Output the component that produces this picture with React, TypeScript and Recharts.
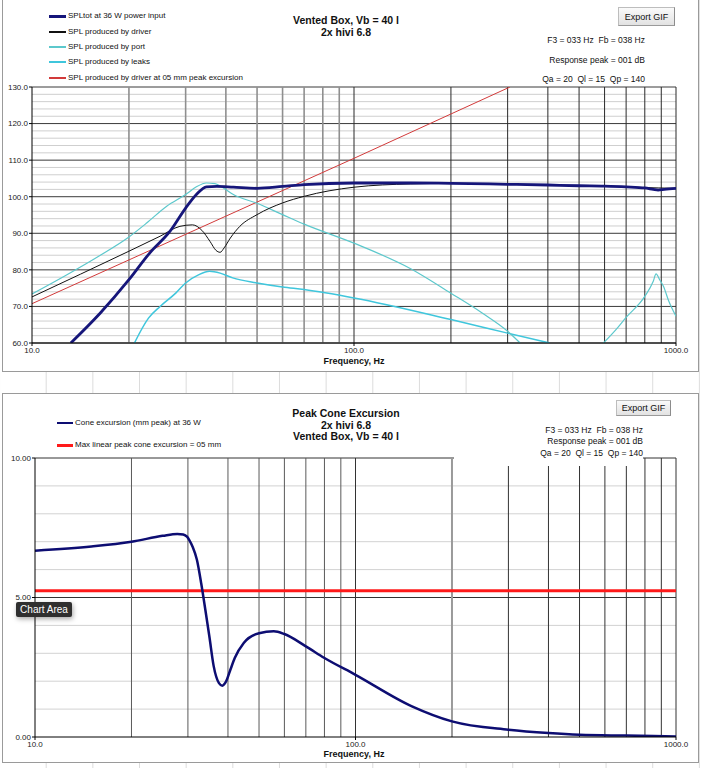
import React from "react";
import { LineChart, Line, XAxis, YAxis, CartesianGrid } from "recharts";

const FONT = '"Liberation Sans", Arial, Helvetica, sans-serif';

// ---------- shared axis values ----------
const freqTicks = [10, 100, 1000];
const freqGridLow = [20, 30, 40, 50, 60, 70, 80, 90];
const freqGridHigh = [100, 200, 300, 400, 500, 600, 700, 800, 900, 1000];
const freqGridHighB = [100, 300, 400, 500, 600, 700, 800, 900, 1000];
const freqGrid200 = [200];

// ---------- SPL chart (top) ----------
const splTitle = ["Vented Box, Vb = 40 l", "2x hivi 6.8"];
const splNotes = ["F3 = 033 Hz  Fb = 038 Hz", "Response peak = 001 dB", "Qa = 20  Ql = 15  Qp = 140"];
const splLegend = [
  "SPLtot at 36 W power input",
  "SPL produced by driver",
  "SPL produced by port",
  "SPL produced by leaks",
  "SPL produced by driver at 05 mm peak excursion",
];
const splTicks = [60, 70, 80, 90, 100, 110, 120, 130];
const splMinor = [62, 64, 66, 68, 72, 74, 76, 78, 82, 84, 86, 88, 92, 94, 96, 98, 102, 104, 106, 108, 112, 114, 116, 118, 122, 124, 126, 128];

const totHz = [13.2, 16.3, 20, 23.2, 26.8, 30, 32.4, 34.8, 37.5, 42.2, 50, 60, 70, 100, 150, 200, 300, 400, 500, 600, 700, 800, 850, 880, 920, 1000];
const totDb = [60, 68.2, 77.3, 84.6, 90.5, 96.9, 100.6, 102.7, 102.8, 102.6, 102.3, 102.8, 103.3, 103.75, 103.75, 103.65, 103.4, 103.2, 103.0, 102.9, 102.7, 102.4, 102.0, 101.8, 102.0, 102.3];

const drvHz = [10, 20, 25, 28.8, 31.5, 33.7, 35.7, 37.3, 38.4, 39.5, 41.3, 44.2, 50, 60, 70, 100, 150, 200, 300, 400, 500, 600, 700, 800, 880, 1000];
const drvDb = [72.6, 85.1, 89.2, 91.9, 92.3, 90.8, 87.8, 85.3, 84.8, 86.0, 88.7, 91.9, 95.1, 98.3, 100.1, 102.6, 103.5, 103.65, 103.4, 103.2, 103.0, 102.9, 102.7, 102.5, 102.4, 102.3];

const portLowHz = [10, 12.8, 16.3, 20, 22.7, 26.2, 30, 32.4, 34.8, 37, 39.3, 42.2, 50, 60, 70, 100, 150, 200, 250, 300, 328];
const portLowDb = [73.4, 78.6, 84.0, 89.0, 92.8, 97.4, 100.6, 102.7, 103.75, 103.6, 102.4, 100.6, 98.2, 95.1, 92.5, 87.3, 80.3, 73.6, 68.2, 63.2, 60];
const portHighHz = [595, 650, 700, 800, 850, 867, 890, 914, 950, 1000];
const portHighDb = [60, 63.6, 67.0, 72.75, 76.9, 78.9, 77.3, 75.5, 71.4, 67.3];

const leakHz = [20.8, 23, 25, 28, 30, 33, 35.6, 38.4, 42, 50, 60, 70, 100, 200, 300, 405];
const leakDb = [60, 66.8, 70.0, 73.7, 76.4, 78.7, 79.6, 79.1, 77.8, 76.4, 75.3, 74.6, 72.3, 66.4, 62.7, 60];

const xmaxHz = [10, 100, 305];
const xmaxDb = [70.75, 110.5, 130];

// ---------- excursion chart (bottom) ----------
const excTitle = ["Peak Cone Excursion", "2x hivi 6.8", "Vented Box, Vb = 40 l"];
const excLegend = ["Cone excursion (mm peak) at 36 W", "Max linear peak cone excursion = 05 mm"];
const excTicks = [0, 5, 10];
const excMinor = [1, 2, 3, 4, 6, 7, 8, 9];
const excMajor = [5, 10];

const coneHz = [10, 15, 20, 25, 27.8, 29, 29.8, 30.3, 31, 32, 33, 34, 35, 36.1, 37.5, 38.4, 39.5, 40.7, 42, 44.8, 50, 55.6, 60, 70, 80, 100, 150, 200, 300, 400, 500, 700, 1000];
const coneMm = [6.68, 6.83, 7.0, 7.21, 7.28, 7.26, 7.18, 7.06, 6.83, 6.35, 5.51, 4.56, 3.6, 2.54, 1.93, 1.84, 2.0, 2.41, 2.83, 3.37, 3.72, 3.79, 3.69, 3.25, 2.83, 2.23, 1.1, 0.56, 0.26, 0.14, 0.08, 0.05, 0.02];
const limitHz = [10, 1000];
const limitMm = [5.24, 5.24];

const pts = (hz: number[], v: number[]) => hz.map((f, i) => ({ f, v: v[i] }));

const tickStyle = { fontSize: 8, fill: "#222", fontFamily: FONT };

function Txt({
  x, y, children, size = 8, bold = false, align = "left", color = "#111",
}: { x: number; y: number; children: React.ReactNode; size?: number; bold?: boolean; align?: "left" | "center" | "right"; color?: string }) {
  const style: React.CSSProperties = {
    position: "absolute",
    top: y,
    fontFamily: FONT,
    fontSize: size,
    fontWeight: bold ? 700 : 400,
    lineHeight: 1,
    whiteSpace: "pre",
    color,
    transform: align === "center" ? "translate(-50%, -50%)" : "translateY(-50%)",
  };
  if (align === "right") style.right = 703 - x;
  else style.left = x;
  return <div style={style}>{children}</div>;
}

function Swatch({ x1, x2, y, color, w }: { x1: number; x2: number; y: number; color: string; w: number }) {
  return <div style={{ position: "absolute", left: x1, top: Math.round(y - w / 2), width: x2 - x1, height: w, background: color }} />;
}

function ExportButton({ left, top, width, height }: { left: number; top: number; width: number; height: number }) {
  return (
    <div
      style={{
        position: "absolute", left, top, width, height, boxSizing: "border-box",
        background: "linear-gradient(#fafafa, #e2e2e2)", border: "1px solid #bdbdbd",
        borderRightColor: "#8c8c8c", borderBottomColor: "#9a9a9a",
        fontFamily: FONT, fontSize: 9, color: "#111", display: "flex", alignItems: "center", justifyContent: "center",
      }}
    >
      Export GIF
    </div>
  );
}

function freqAxis(height: number) {
  return (
    <XAxis
      dataKey="f" type="number" scale="log" domain={[10, 1000]} ticks={freqTicks} allowDataOverflow
      tickFormatter={(v: number) => v.toFixed(1)} tick={tickStyle} tickSize={3} tickMargin={1}
      axisLine={{ stroke: "#000" }} tickLine={{ stroke: "#000" }} height={height} interval={0}
    />
  );
}

function SplChart() {
  const colors = ["#16167a", "#111111", "#5cc8cc", "#3fc6dc", "#d23a3a"];
  const widths = [3, 1.5, 1.5, 2, 1.5];
  const legendY = [16, 31.5, 47, 62, 77.5];
  return (
    <>
      <div style={{ position: "absolute", left: 2, top: -1, width: 697, height: 373, boxSizing: "border-box", border: "1px solid #9a9a9a", background: "#fff" }} />
      <div style={{ position: "absolute", left: 2, top: 0 }}>
        <LineChart width={696} height={372} margin={{ top: 87, right: 22, bottom: 0, left: 0 }}>
          <CartesianGrid horizontalValues={splMinor} vertical={false} stroke="#cfcfcf" />
          <CartesianGrid horizontalValues={splTicks} vertical={false} stroke="#3a3a3a" />
          <CartesianGrid verticalValues={freqGridLow} horizontal={false} stroke="#8f8f8f" strokeWidth={1.6} />
          <CartesianGrid verticalValues={freqGridHigh} horizontal={false} stroke="#2a2a2a" />
          {freqAxis(29)}
          <YAxis
            type="number" domain={[60, 130]} ticks={splTicks} allowDataOverflow width={30}
            tickFormatter={(v: number) => v.toFixed(1)} tick={tickStyle} tickSize={3} tickMargin={1}
            axisLine={{ stroke: "#000" }} tickLine={{ stroke: "#000" }} interval={0}
          />
          <Line data={pts(xmaxHz, xmaxDb)} dataKey="v" type="linear" stroke={colors[4]} strokeWidth={1} dot={false} isAnimationActive={false} />
          <Line data={pts(leakHz, leakDb)} dataKey="v" type="monotone" stroke={colors[3]} strokeWidth={1.5} dot={false} isAnimationActive={false} />
          <Line data={pts(portLowHz, portLowDb)} dataKey="v" type="monotone" stroke={colors[2]} strokeWidth={1.2} dot={false} isAnimationActive={false} />
          <Line data={pts(portHighHz, portHighDb)} dataKey="v" type="monotone" stroke={colors[2]} strokeWidth={1.2} dot={false} isAnimationActive={false} />
          <Line data={pts(drvHz, drvDb)} dataKey="v" type="monotone" stroke={colors[1]} strokeWidth={1} dot={false} isAnimationActive={false} />
          <Line data={pts(totHz, totDb)} dataKey="v" type="monotone" stroke={colors[0]} strokeWidth={2.8} dot={false} isAnimationActive={false} />
        </LineChart>
      </div>
      {splLegend.map((t, i) => (
        <React.Fragment key={t}>
          <Swatch x1={49} x2={66} y={legendY[i]} color={colors[i]} w={widths[i]} />
          <Txt x={68} y={legendY[i]}>{t}</Txt>
        </React.Fragment>
      ))}
      <Txt x={346} y={20} size={10.5} bold align="center">{splTitle[0]}</Txt>
      <Txt x={346} y={32} size={10.5} bold align="center">{splTitle[1]}</Txt>
      <ExportButton left={618} top={7} width={57} height={19} />
      <Txt x={645} y={39.5} size={8.5} align="right">{splNotes[0]}</Txt>
      <Txt x={645} y={60} size={8.5} align="right">{splNotes[1]}</Txt>
      <Txt x={645} y={79} size={8.5} align="right">{splNotes[2]}</Txt>
      <Txt x={354} y={361} size={9} bold align="center">Frequency, Hz</Txt>
    </>
  );
}

function ExcursionChart() {
  const colors = ["#0d0d72", "#ff1a1a"];
  const legendY = [423, 445];
  return (
    <>
      <div style={{ position: "absolute", left: 2, top: 393, width: 697, height: 370, boxSizing: "border-box", border: "1px solid #9a9a9a", background: "#fff" }} />
      <div style={{ position: "absolute", left: 2, top: 393 }}>
        <LineChart width={696} height={369} margin={{ top: 65, right: 22, bottom: 0, left: 0 }}>
          <CartesianGrid horizontalValues={excMinor} vertical={false} stroke="#d2d2d2" />
          <CartesianGrid horizontalValues={excMajor} vertical={false} stroke="#333" />
          <CartesianGrid verticalValues={freqGridLow} horizontal={false} stroke="#5a5a5a" />
          <CartesianGrid verticalValues={freqGrid200} horizontal={false} stroke="#9a9a9a" strokeWidth={2} />
          <CartesianGrid verticalValues={freqGridHighB} horizontal={false} stroke="#333" />
          {freqAxis(25)}
          <YAxis
            type="number" domain={[0, 10]} ticks={excTicks} allowDataOverflow width={33}
            tickFormatter={(v: number) => v.toFixed(2)} tick={tickStyle} tickSize={3} tickMargin={1}
            axisLine={{ stroke: "#000" }} tickLine={{ stroke: "#000" }} interval={0}
          />
          <Line data={pts(limitHz, limitMm)} dataKey="v" type="linear" stroke={colors[1]} strokeWidth={3} dot={false} isAnimationActive={false} />
          <Line data={pts(coneHz, coneMm)} dataKey="v" type="monotone" stroke={colors[0]} strokeWidth={2.5} dot={false} isAnimationActive={false} />
        </LineChart>
      </div>
      {/* notes text box sits over the top of the plot frame */}
      <div style={{ position: "absolute", left: 454, top: 418, width: 189, height: 48, background: "#fff" }} />
      {excLegend.map((t, i) => (
        <React.Fragment key={t}>
          <Swatch x1={57} x2={73} y={legendY[i]} color={colors[i]} w={i === 0 ? 2 : 3} />
          <Txt x={75} y={legendY[i]}>{t}</Txt>
        </React.Fragment>
      ))}
      <Txt x={346} y={413} size={10.5} bold align="center">{excTitle[0]}</Txt>
      <Txt x={346} y={424.5} size={10.5} bold align="center">{excTitle[1]}</Txt>
      <Txt x={346} y={436} size={10.5} bold align="center">{excTitle[2]}</Txt>
      <ExportButton left={616} top={400} width={55} height={16} />
      <Txt x={643} y={429.5} size={8.5} align="right">{splNotes[0]}</Txt>
      <Txt x={643} y={441} size={8.5} align="right">{splNotes[1]}</Txt>
      <Txt x={643} y={452.7} size={8.5} align="right">{splNotes[2]}</Txt>
      <Txt x={354} y={754} size={9} bold align="center">Frequency, Hz</Txt>
      <div
        style={{
          position: "absolute", left: 16, top: 602, width: 56, height: 15, background: "#2f2f2f", color: "#fff",
          fontFamily: FONT, fontSize: 10, borderRadius: 2, boxShadow: "1px 2px 5px rgba(0,0,0,0.35)",
          display: "flex", alignItems: "center", justifyContent: "center",
        }}
      >
        Chart Area
      </div>
    </>
  );
}

export default function App() {
  return (
    <div
      style={{
        position: "absolute", left: 0, top: 0, width: 703, height: 768, overflow: "hidden", background: "#fff",
        backgroundImage: "linear-gradient(to right, #dcdcdc 1px, transparent 1px)",
        backgroundSize: "46.667px 100%", backgroundPosition: "45.7px 0",
      }}
    >
      <SplChart />
      <ExcursionChart />
    </div>
  );
}
